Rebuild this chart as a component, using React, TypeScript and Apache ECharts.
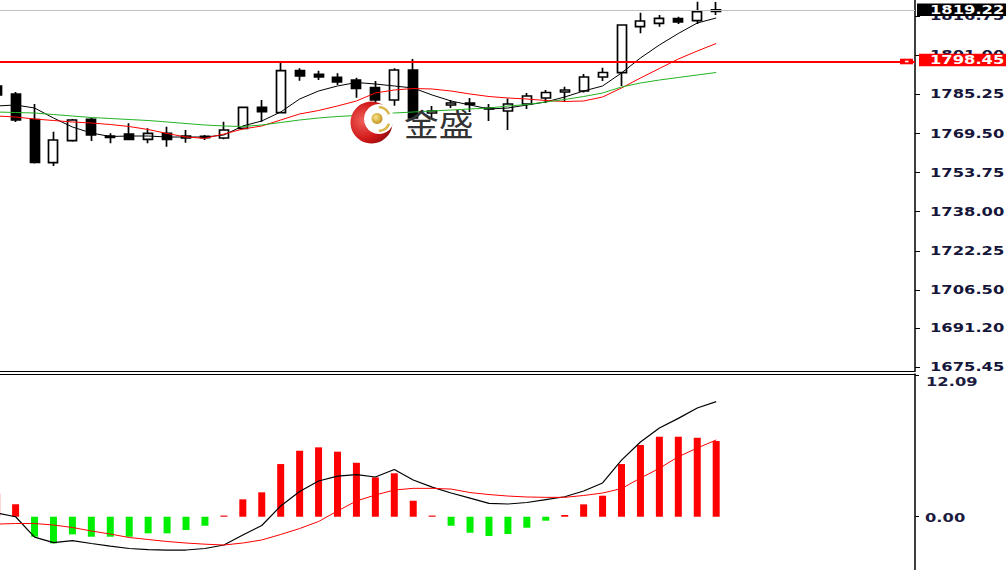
import React, { useEffect, useRef } from "react";
import * as echarts from "echarts";

// ---- data ----
const barLabels = ["01","02","03","04","05","06","07","08","09","10","11","12","13","14","15","16","17","18","19","20","21","22","23","24","25","26","27","28","29","30","31","32","33","34","35","36","37","38","39"];
const padLabels = ["40","41","42","43","44","45","46","47","48","49"];

const opens = [1788.58,1785.37,1775.10,1757.71,1766.57,1775.18,1767.94,1769.27,1767.13,1769.55,1767.66,1768.34,1767.66,1771.56,1780.01,1777.84,1794.74,1793.29,1792.09,1791.00,1787.90,1782.95,1795.03,1777.72,1780.94,1781.14,1779.33,1778.52,1781.34,1783.76,1786.17,1786.57,1792.21,1793.94,1812.45,1813.82,1815.75,1814.87,1818.57];
const closes = [1784.96,1774.90,1757.79,1766.85,1774.90,1768.86,1768.46,1767.13,1769.55,1767.13,1768.46,1767.78,1770.88,1780.01,1778.24,1794.74,1792.61,1792.21,1790.20,1787.66,1782.95,1795.03,1775.71,1778.52,1781.74,1781.74,1779.73,1781.34,1784.56,1785.97,1786.98,1792.21,1794.02,1813.14,1814.75,1815.83,1814.35,1818.49,1819.22];
const highs = [1790.20,1786.17,1781.34,1770.19,1775.30,1775.71,1769.55,1773.57,1771.56,1772.20,1770.88,1768.86,1774.22,1780.33,1782.95,1797.96,1795.71,1794.74,1793.70,1791.93,1790.60,1795.71,1799.45,1780.53,1782.95,1783.76,1781.34,1783.55,1785.77,1786.98,1788.30,1793.42,1795.95,1813.34,1818.09,1817.16,1816.48,1822.52,1822.40];
const lows = [1782.95,1774.10,1757.39,1756.39,1766.17,1766.45,1765.52,1766.85,1765.52,1764.15,1765.76,1766.85,1767.13,1771.28,1774.22,1777.60,1790.72,1791.00,1788.99,1783.88,1782.14,1780.66,1774.90,1775.30,1779.73,1778.12,1774.50,1770.88,1779.33,1781.74,1782.27,1785.97,1790.60,1788.58,1809.80,1812.45,1813.54,1813.54,1817.16];

const maBlack = [1780.54,1780.94,1779.73,1775.70,1772.08,1769.67,1768.26,1768.46,1768.46,1768.06,1768.06,1768.06,1768.86,1772.49,1774.50,1778.12,1783.35,1786.57,1788.59,1789.99,1789.39,1788.59,1787.78,1784.96,1782.55,1780.94,1779.33,1779.73,1780.94,1782.15,1784.16,1786.57,1788.59,1793.82,1799.86,1805.09,1809.72,1813.94,1815.96];
const maRed = [1776.51,1776.11,1775.30,1774.70,1774.10,1773.69,1773.09,1772.28,1771.08,1769.47,1768.06,1767.53,1769.26,1771.28,1772.49,1774.90,1777.32,1778.72,1780.54,1782.55,1785.77,1786.98,1787.58,1787.38,1786.57,1785.37,1784.36,1783.76,1783.35,1782.75,1782.35,1782.55,1784.16,1787.78,1791.81,1795.63,1799.45,1802.67,1805.69];
const maGreen = [1778.12,1777.92,1777.72,1777.11,1776.51,1775.91,1775.50,1775.10,1774.70,1774.10,1773.49,1772.89,1772.49,1772.28,1772.89,1773.89,1774.90,1775.71,1776.31,1776.71,1777.32,1777.72,1778.12,1778.52,1778.93,1779.33,1779.73,1780.54,1781.14,1782.15,1783.15,1784.36,1785.77,1788.18,1789.79,1791.00,1792.01,1793.01,1794.02];

const macdHist = [2.0,1.06,-1.71,-2.28,-1.51,-1.71,-1.71,-1.71,-1.42,-1.42,-1.14,-0.77,0.1,1.49,2.09,4.51,5.65,5.94,5.57,4.62,3.37,3.72,1.37,0.1,-0.77,-1.37,-1.65,-1.48,-0.94,-0.34,0.15,1.06,1.80,4.51,6.14,6.85,6.85,6.76,6.48];
const macdLine = [0.32,0,-1.74,-2.21,-2.04,-2.29,-2.51,-2.72,-2.81,-2.85,-2.85,-2.72,-2.42,-1.57,-0.75,0.92,2.16,3.06,3.48,3.61,3.40,4.04,3.14,2.54,2.03,1.60,1.15,1.09,1.22,1.47,1.71,2.20,2.89,4.85,6.40,7.59,8.42,9.31,9.85];
const macdSignal = [-0.63,-0.58,-0.58,-0.71,-0.92,-1.22,-1.48,-1.78,-1.95,-2.12,-2.25,-2.35,-2.42,-2.25,-1.99,-1.52,-1.01,-0.41,0.49,1.35,1.86,2.29,2.43,2.43,2.37,2.07,1.90,1.77,1.69,1.66,1.66,1.82,2.03,2.41,3.31,4.14,5.14,5.88,6.57];

const priceTicks = [1816.75,1801.00,1785.25,1769.50,1753.75,1738.00,1722.25,1706.50,1691.20,1675.45];
const priceTickLabels = ["1816.75","1801.00","1785.25","1769.50","1753.75","1738.00","1722.25","1706.50","1691.20","1675.45"];
const macdTicks = [12.09, 0];
const macdTickLabels = ["12.09", "0.00"];

const bidPrice = 1819.22;
const bidLabel = "1819.22";
const levelPrice = 1798.45;
const levelLabel = "1798.45";
const logoText = "金盛";

const priceMin = 1673.88;
const priceMax = 1823.2;
const macdMin = -4.56;
const macdMax = 12.22;

export default function App() {
  const ref = useRef<HTMLDivElement>(null);
  useEffect(() => {
    const chart = echarts.init(ref.current!, undefined, { renderer: "svg" });
    const cats = [...barLabels, ...padLabels];
    const candleData = opens.map((o, i) => [o, closes[i], lows[i], highs[i]]);
    const histData = macdHist.map((v) => ({
      value: v,
      itemStyle: { color: v >= 0 ? "#ff0000" : "#00ee00" },
    }));
    const gridBase = { left: -12.8, width: 927.8, containLabel: false, outerBoundsMode: "none" };
    const xBase = {
      type: "category",
      data: cats,
      boundaryGap: true,
      axisLine: { show: true, onZero: false, lineStyle: { color: "#000", width: 1 } },
      axisTick: { show: false },
      axisLabel: { show: false },
      splitLine: { show: false },
    };
    const lineBase = {
      type: "line",
      showSymbol: false,
      symbol: "none",
      smooth: false,
      z: 4,
    };
    chart.setOption({
      animation: false,
      backgroundColor: "#ffffff",
      grid: [
        { ...gridBase, top: 0, height: 371 },
        { ...gridBase, top: 374, height: 196 },
      ],
      xAxis: [
        { ...xBase, gridIndex: 0, position: "bottom" },
        { ...xBase, gridIndex: 1, position: "top" },
      ],
      yAxis: [
        {
          type: "value",
          gridIndex: 0,
          position: "right",
          min: priceMin,
          max: priceMax,
          axisLine: { show: true, lineStyle: { color: "#000", width: 1.5 } },
          axisTick: { show: true, inside: false, length: 5, lineStyle: { color: "#000" }, customValues: priceTicks },
          axisLabel: { show: false, customValues: priceTicks },
          splitLine: { show: false },
        },
        {
          type: "value",
          gridIndex: 1,
          position: "right",
          min: macdMin,
          max: macdMax,
          axisLine: { show: true, lineStyle: { color: "#000", width: 1.5 } },
          axisTick: { show: true, inside: false, length: 4, lineStyle: { color: "#000" }, customValues: macdTicks },
          axisLabel: { show: false, customValues: macdTicks },
          splitLine: { show: false },
        },
      ],
      series: [
        {
          type: "candlestick",
          xAxisIndex: 0,
          yAxisIndex: 0,
          data: candleData,
          barWidth: 9.5,
          itemStyle: {
            color: "#ffffff",
            color0: "#000000",
            borderColor: "#000000",
            borderColor0: "#000000",
            borderWidth: 1.7,
          },
          markLine: {
            silent: true,
            symbol: ["none", "none"],
            animation: false,
            label: { show: false },
            data: [
              { yAxis: bidPrice, lineStyle: { color: "#c0c0c0", width: 1, type: "solid" } },
              { yAxis: levelPrice, lineStyle: { color: "#ff0000", width: 2.2, type: "solid" } },
            ],
          },
        },
        { ...lineBase, name: "MA fast", xAxisIndex: 0, yAxisIndex: 0, data: maBlack, lineStyle: { color: "#000", width: 1 } },
        { ...lineBase, name: "MA mid", xAxisIndex: 0, yAxisIndex: 0, data: maRed, lineStyle: { color: "#ff0000", width: 1 } },
        { ...lineBase, name: "MA slow", xAxisIndex: 0, yAxisIndex: 0, data: maGreen, lineStyle: { color: "#22b322", width: 1 } },
        {
          type: "bar",
          name: "hist",
          xAxisIndex: 1,
          yAxisIndex: 1,
          data: histData,
          barWidth: 7,
        },
        { ...lineBase, name: "macd", xAxisIndex: 1, yAxisIndex: 1, data: macdLine, lineStyle: { color: "#000", width: 1.2 } },
        { ...lineBase, name: "signal", xAxisIndex: 1, yAxisIndex: 1, data: macdSignal, lineStyle: { color: "#ff0000", width: 1 } },
      ],
    });

    const py = (axis: number, v: number) => chart.convertToPixel({ yAxisIndex: axis } as any, v) as number;
    const labelFont = 'bold 12px "DejaVu Sans"';
    const stretch = 1.36;
    const graphics: any[] = [];
    priceTicks.forEach((v, i) => {
      graphics.push({
        type: "text",
        x: 930,
        y: py(0, v),
        scaleX: stretch,
        z: 50,
        style: { text: priceTickLabels[i], font: labelFont, fill: "#16163a", textVerticalAlign: "middle", verticalAlign: "middle" },
      });
    });
    macdTicks.forEach((v, i) => {
      graphics.push({
        type: "text",
        x: i === 0 ? 926 : 925,
        y: py(1, v) + (i === 0 ? 6 : 1),
        scaleX: stretch,
        z: 50,
        style: { text: macdTickLabels[i], font: labelFont, fill: "#1c1c40", textVerticalAlign: "middle", verticalAlign: "middle" },
      });
    });
    const yBid = py(0, bidPrice);
    const yLvl = py(0, levelPrice) - 1.4;
    graphics.push(
      { type: "rect", z: 60, shape: { x: 917, y: yBid - 6.4, width: 95, height: 12.6 }, style: { fill: "#000" } },
      { type: "text", z: 61, x: 930, y: yBid, scaleX: stretch, style: { text: bidLabel, font: labelFont, fill: "#fff", textVerticalAlign: "middle", verticalAlign: "middle" } },
      { type: "rect", z: 60, shape: { x: 919, y: yLvl - 6.4, width: 95, height: 12.6 }, style: { fill: "#ff0000" } },
      { type: "text", z: 61, x: 930, y: yLvl, scaleX: stretch, style: { text: levelLabel, font: labelFont, fill: "#fff", textVerticalAlign: "middle", verticalAlign: "middle" } },
      { type: "rect", z: 60, shape: { x: 900, y: yLvl - 2.8 + 1.4, width: 13, height: 5.6 }, style: { fill: "#ff0000" } },
      { type: "rect", z: 61, shape: { x: 905, y: yLvl - 0.8 + 1.4, width: 3.5, height: 1.6 }, style: { fill: "#fff" } }
    );
    // watermark logo
    graphics.push(
      {
        type: "circle",
        z: 70,
        shape: { cx: 371.5, cy: 122.5, r: 21 },
        style: {
          fill: new echarts.graphic.RadialGradient(0.3, 0.45, 0.75, [
            { offset: 0, color: "#f0605a" },
            { offset: 0.6, color: "#d01818" },
            { offset: 1, color: "#8a0a0a" },
          ]),
        },
      },
      { type: "circle", z: 71, shape: { cx: 379, cy: 119, r: 15 }, style: { fill: "#ffffff" } },
      { type: "arc", z: 72, shape: { cx: 378, cy: 119, r: 12, startAngle: -1.5, endAngle: -0.4, clockwise: true }, style: { stroke: "#d9b64a", lineWidth: 2.5, fill: "none" } },
      { type: "arc", z: 72, shape: { cx: 378, cy: 119, r: 12, startAngle: 0.4, endAngle: 1.5, clockwise: true }, style: { stroke: "#d9b64a", lineWidth: 2.5, fill: "none" } },
      {
        type: "circle",
        z: 72,
        shape: { cx: 377, cy: 118.5, r: 5.5 },
        style: {
          fill: new echarts.graphic.RadialGradient(0.4, 0.4, 0.7, [
            { offset: 0, color: "#fbe48a" },
            { offset: 1, color: "#b88a12" },
          ]),
        },
      },
      {
        type: "text",
        z: 73,
        x: 404,
        y: 122,
        scaleX: 1.12,
        style: { text: logoText, font: 'normal 31px "Noto Sans CJK SC"', fill: "#333333", textVerticalAlign: "middle", verticalAlign: "middle" },
      }
    );
    chart.setOption({ graphic: graphics });
    return () => chart.dispose();
  }, []);
  return <div ref={ref} style={{ position: "absolute", left: 0, top: 0, width: 1006, height: 570 }} />;
}
